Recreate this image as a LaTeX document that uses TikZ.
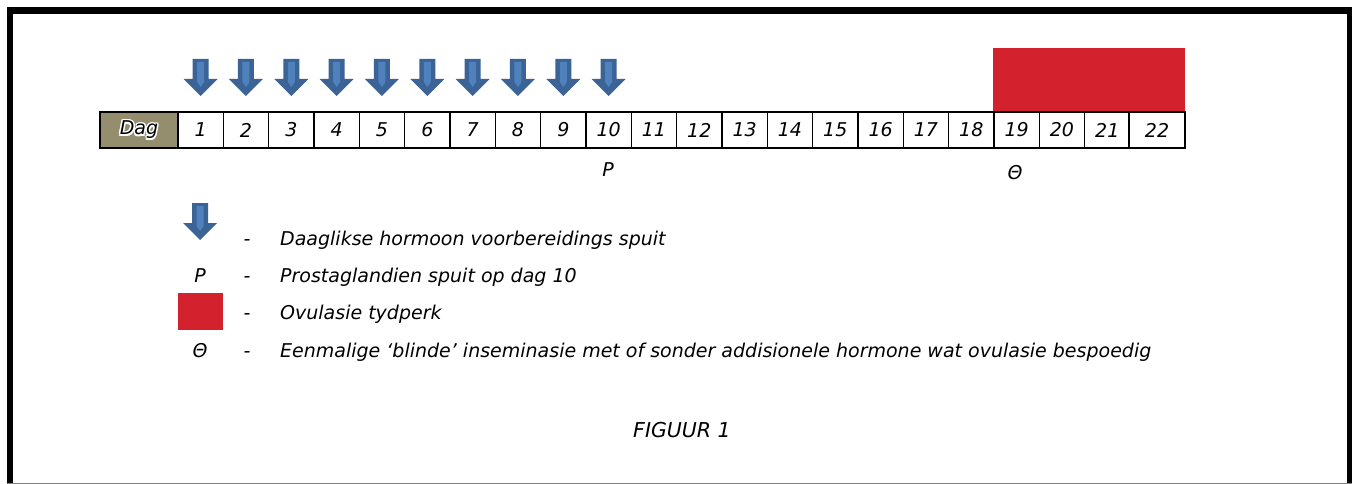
\documentclass[tikz,border=0pt]{standalone}
\usepackage{fontspec}
\setmainfont{DejaVu Sans}
\definecolor{dagfill}{RGB}{148,141,110}
\definecolor{arrowdark}{RGB}{59,99,149}
\definecolor{arrowlight}{RGB}{79,129,189}
\definecolor{ovred}{RGB}{211,34,45}
\newcommand\gl[3]{\rlap{\kern#1\raisebox{#2}{\textcolor{white}{#3}}}}
\newcommand\glowtxt[1]{\leavevmode\gl{-1.5pt}{0pt}{#1}\gl{1.5pt}{0pt}{#1}\gl{0pt}{1.5pt}{#1}\gl{0pt}{-1.5pt}{#1}\gl{-1.1pt}{1.1pt}{#1}\gl{1.1pt}{1.1pt}{#1}\gl{-1.1pt}{-1.1pt}{#1}\gl{1.1pt}{-1.1pt}{#1}#1}
\tikzset{
  injarrow/.pic={
    \fill[arrowdark] (-8,0) -- (8,0) -- (8,20) -- (17,20) -- (0,37) -- (-17,20) -- (-8,20) -- cycle;
    \fill[arrowlight] (-3.5,3) -- (3.5,3) -- (3.5,23) -- (0,28) -- (-3.5,23) -- cycle;
  }
}
\begin{document}
\begin{tikzpicture}[x=1pt,y=-1pt,
  txt/.style={font=\fontsize{19}{22}\selectfont\itshape, inner sep=0pt},
  cell/.style={draw=black, line width=1.3pt, minimum height=36pt, inner sep=0pt, txt, fill=white}]
\useasboundingbox (0,0) rectangle (1352,484);
\fill[white] (0,0) rectangle (1352,484);
% frame
\fill[black] (7,7) rectangle (1352,14);
\fill[black] (7,7) rectangle (13,484);
\fill[black] (1347,7) rectangle (1352,484);
\draw[gray, line width=1pt] (7,483) -- (1352,483);
% ovulation period
\fill[ovred] (993,48) rectangle (1185,112);
% day row
\node[cell, fill=dagfill, minimum width=78pt] (dag) at (139,130) {\glowtxt{Dag}};
\foreach \i in {1,...,21}
  \node[cell, minimum width=45.33pt] (c\i) at ({178+(\i-0.5)*45.33},130) {\i};
\node[cell, minimum width=56pt] (c22) at (1157,130) {22};
% daily injections
\foreach \i in {1,...,10}
  \pic at ({178+(\i-0.5)*45.33},59) {injarrow};
% markers
\node[txt, anchor=base] (pday) at (608,176) {P};
\node[txt, anchor=base] (theta) at (1015,179) {Θ};
% legend
\pic at (200,203) {injarrow};
\node[txt, anchor=base] (d1) at (247,245) {-};
\node[txt, anchor=base west] (l1) at (280,245) {Daaglikse hormoon voorbereidings spuit};
\node[txt, anchor=base] (lp) at (200,282) {P};
\node[txt, anchor=base] (d2) at (247,282) {-};
\node[txt, anchor=base west] (l2) at (280,282) {Prostaglandien spuit op dag 10};
\fill[ovred] (178,293) rectangle (223,330);
\node[txt, anchor=base] (d3) at (247,319) {-};
\node[txt, anchor=base west] (l3) at (280,319) {Ovulasie tydperk};
\node[txt, anchor=base] (lt) at (200,357) {Θ};
\node[txt, anchor=base] (d4) at (247,357) {-};
\node[txt, anchor=base west] (l4) at (280,357) {Eenmalige ‘blinde’ inseminasie met of sonder addisionele hormone wat ovulasie bespoedig};
% caption
\node[font=\fontsize{20.5}{24}\selectfont\itshape, inner sep=0pt, anchor=base] (fig) at (682,437) {FIGUUR 1};
\end{tikzpicture}
\end{document}
